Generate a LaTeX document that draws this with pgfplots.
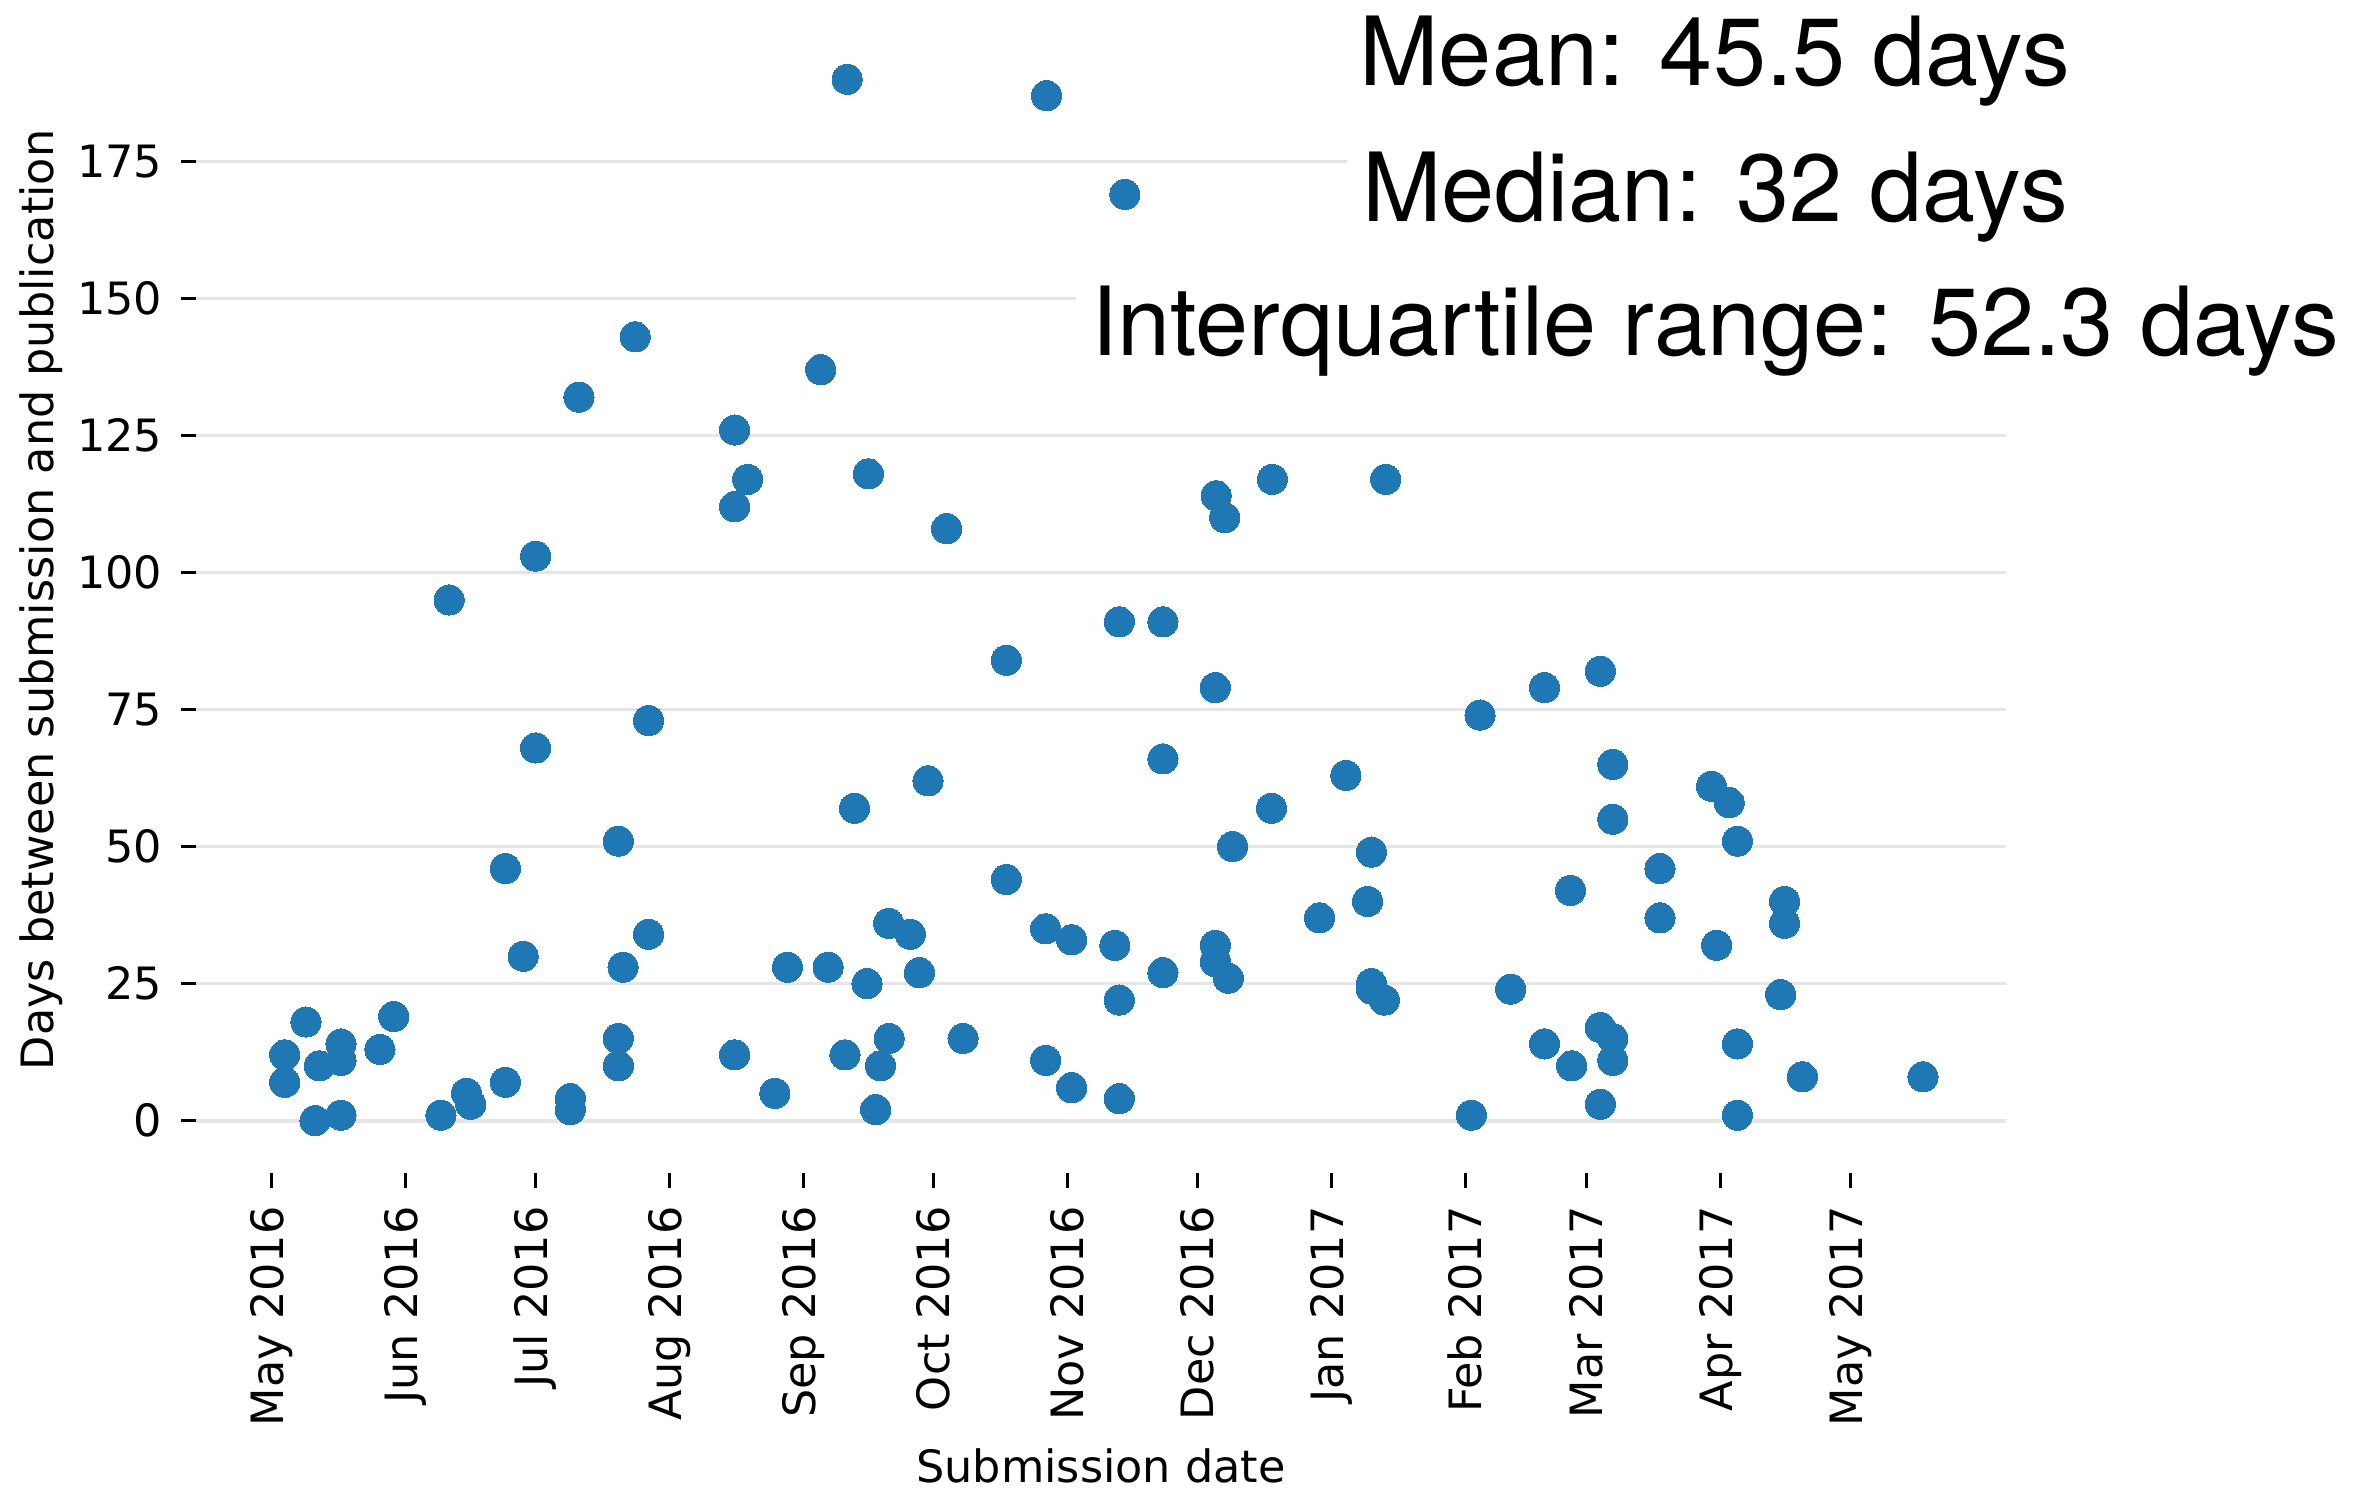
\documentclass[border=0pt]{standalone}
\usepackage{fontspec}
\setmainfont{DejaVu Sans}
\newfontfamily\helv{TeX Gyre Heros}
\usepackage{pgfplots}
\pgfplotsset{compat=1.18}
\definecolor{tabblue}{HTML}{1F77B4}
\definecolor{gridgray}{HTML}{E5E5E5}
\begin{document}
\begin{tikzpicture}
\begin{axis}[
  at={(0,0)}, anchor=south west,
  width=120mm, height=75.95mm, scale only axis,
  xmin=-17.4, xmax=401, ymin=-9.5, ymax=199.5,
  axis line style={draw=none},
  tick align=outside, major tick length=1mm,
  tick style={black, line width=0.6pt},
  xtick pos=bottom, ytick pos=left,
  xtick={0,31,61,92,123,153,184,214,245,276,304,335,365},
  xticklabels={May 2016,Jun 2016,Jul 2016,Aug 2016,Sep 2016,Oct 2016,Nov 2016,Dec 2016,Jan 2017,Feb 2017,Mar 2017,Apr 2017,May 2017},
  ytick={0,25,50,75,100,125,150,175},
  ymajorgrids, grid style={gridgray, line width=0.7pt},
  xticklabel style={rotate=90, anchor=east},
  tick label style={font=\fontsize{8.4}{10}\selectfont},
  /pgf/number format/assume math mode=true,
  xlabel={Submission date},
  ylabel={Days between submission and publication},
  label style={font=\fontsize{8.4}{10}\selectfont},
  xlabel style={at={(axis description cs:0.5,-0.256)}, anchor=center},
  ylabel style={at={(axis description cs:-0.0858,0.5)}, anchor=center},
]
\addplot[only marks, mark=*, mark size=1mm, mark options={fill=tabblue, draw=tabblue, line width=0pt}, tabblue] table {
x y
3.1 12
3.1 7
8.0 18
10.1 0
11.1 10
16.1 14
16.1 11
16.1 1
25.1 13
28.3 19
39.2 1
41.1 95
45.1 5
46.1 3
54.1 46
54.1 7
58.2 30
61.1 103
61.1 68
69.1 4
69.1 2
71.1 132
80.2 51
80.2 15
80.2 10
81.3 28
84.1 143
87.2 73
87.2 34
107.1 126
107.1 112
110.1 117
107.1 12
116.4 5
119.3 28
127 137
128.7 28
133.1 190
132.6 12
134.8 57
138 118
137.7 25
139.7 2
140.8 10
142.7 36
142.8 15
147.7 34
149.8 27
151.8 62
156.1 108
159.9 15
169.9 84
169.9 44
179.2 187
179 35
179 11
185 33
185 6
196 91
195 32
196 22
196 4
197.3 169
206.1 91
206.1 66
206.1 27
218.4 114
220.4 110
218.2 79
218.2 32
218.2 29
221.2 26
222.2 50
231.4 117
231.2 57
242.3 37
248.4 63
253.4 40
254.3 49
254.3 25
254.3 24
257.6 117
257.3 22
277.4 1
279.4 74
286.5 24
294.3 79
294.3 14
300.3 42
300.6 10
307.2 82
307.2 17
307.2 3
310.1 65
310.1 55
310.1 15
310.1 11
321 46
321 37
332.9 61
334.1 32
337 58
338.9 51
338.9 14
338.9 1
348.9 23
349.8 40
349.8 36
353.9 8
381.8 8
};
\end{axis}
\node[font=\helv\fontsize{18}{20}\selectfont, fill=white, inner sep=1mm, anchor=base] at (100.7mm,72.05mm) {Mean: 45.5 days};
\node[font=\helv\fontsize{18}{20}\selectfont, fill=white, inner sep=1mm, anchor=base] at (100.7mm,63.05mm) {Median: 32 days};
\node[font=\helv\fontsize{18}{20}\selectfont, fill=white, inner sep=1mm, anchor=base] at (100.7mm,54.15mm) {Interquartile range: 52.3 days};
\pgfresetboundingbox
\path (-13mm,-21.15mm) rectangle (143.8mm,77.75mm);
\end{tikzpicture}
\end{document}
